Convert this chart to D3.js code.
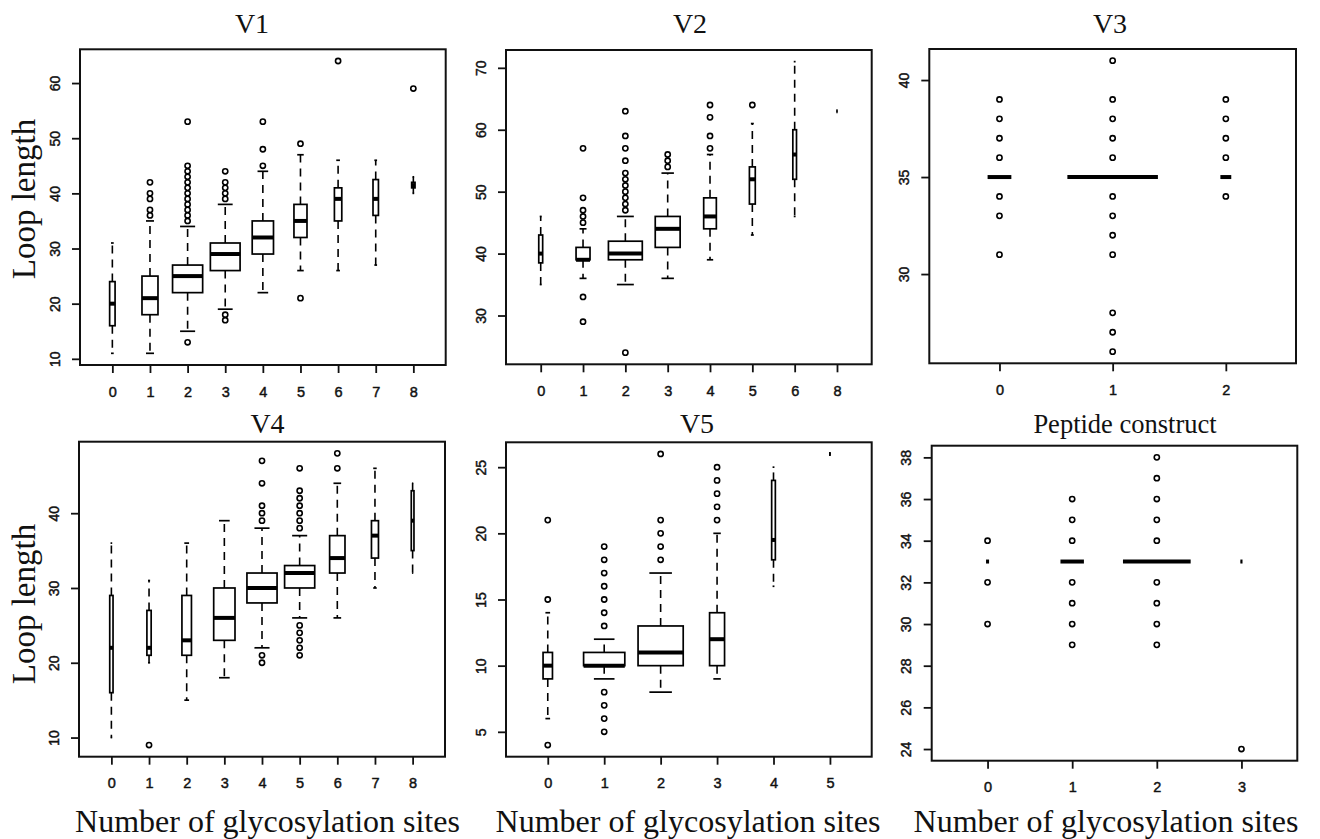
<!DOCTYPE html>
<html>
<head>
<meta charset="utf-8">
<script src="https://cdn.jsdelivr.net/npm/d3@7"></script>
<style>
  body { margin: 0; background: #fff; }
  svg { display: block; }
</style>
</head>
<body>
<svg id="chart" width="1320" height="839"></svg>
<script>
// ---------- Data: loop length by number of glycosylation sites ----------
// Each stats row: [lower whisker, Q1, median, Q3, upper whisker]

// V1
const v1Groups = ["0", "1", "2", "3", "4", "5", "6", "7", "8"];
const v1Counts = [13, 113, 400, 390, 200, 75, 24, 13, 5];
const v1Stats = [
  [11, 16, 20, 24, 31],
  [11, 18, 21, 25, 35],
  [15, 22, 25, 27, 34],
  [19, 26, 29, 31, 38],
  [22, 29, 32, 35, 44],
  [26, 32, 35, 38, 47],
  [26, 35, 39, 41, 46],
  [27, 36, 39, 42.5, 46],
  [40, 41, 41.5, 42, 43]
];
const v1Outliers = [
  [], [36, 37, 39, 40, 42],
  [13, 35, 36, 37, 38, 39, 40, 41, 42, 43, 44, 45, 53],
  [17, 18, 39, 40, 41, 42, 44],
  [45, 48, 53], [21, 49], [64], [], [59]
];
const v1Ticks = [10, 20, 30, 40, 50, 60];

// V2
const v2Groups = ["0", "1", "2", "3", "4", "5", "6", "8"];
const v2Counts = [8, 102, 600, 324, 84, 18, 7, 1];
const v2Stats = [
  [35, 38.5, 40, 43, 46],
  [36, 39, 39, 41, 44],
  [35, 39, 40, 42, 46],
  [36, 41, 44, 46, 53],
  [39, 44, 46, 49, 56],
  [43, 48, 52, 54, 61],
  [46, 52, 56, 60, 71],
  [63, 63, 63, 63, 63]
];
const v2Outliers = [
  [], [29, 33, 45, 46, 47, 49, 57],
  [24, 47, 48, 49, 50, 51, 52, 53, 55, 57, 59, 63],
  [54, 55, 56], [57, 59, 62, 64], [64], [], []
];
const v2Ticks = [30, 40, 50, 60, 70];

// V3
const v3Groups = ["0", "1", "2"];
const v3Counts = [62, 900, 13];
const v3Stats = [
  [35, 35, 35, 35, 35],
  [35, 35, 35, 35, 35],
  [35, 35, 35, 35, 35]
];
const v3Outliers = [
  [31, 33, 34, 36, 37, 38, 39],
  [26, 27, 28, 31, 32, 33, 34, 36, 37, 38, 39, 41],
  [34, 36, 37, 38, 39]
];
const v3Ticks = [30, 35, 40];

// V4
const v4Groups = ["0", "1", "2", "3", "4", "5", "6", "7", "8"];
const v4Counts = [6, 10, 50, 250, 500, 500, 130, 27, 4];
const v4Stats = [
  [10, 16, 22, 29, 36],
  [20, 21, 22, 27, 31],
  [15, 21, 23, 29, 36],
  [18, 23, 26, 30, 39],
  [22, 28, 30, 32, 38],
  [26, 30, 32, 33, 37],
  [26, 32, 34, 37, 44],
  [30, 34, 37, 39, 46],
  [32, 35, 39, 43, 44]
];
const v4Outliers = [
  [], [9], [], [],
  [20, 21, 39, 40, 41, 44, 47],
  [21, 22, 23, 24, 25, 38, 39, 40, 41, 42, 43, 46],
  [46, 48], [], []
];
const v4Ticks = [10, 20, 30, 40];

// V5
const v5Groups = ["0", "1", "2", "3", "4", "5"];
const v5Counts = [26, 500, 600, 66, 4, 1];
const v5Stats = [
  [6, 9, 10, 11, 14],
  [9, 10, 10, 11, 12],
  [8, 10, 11, 13, 17],
  [9, 10, 12, 14, 20],
  [16, 18, 19.5, 24, 25],
  [26, 26, 26, 26, 26]
];
const v5Outliers = [
  [4, 15, 21],
  [5, 6, 7, 8, 13, 14, 15, 16, 17, 18, 19],
  [18, 19, 20, 21, 26],
  [21, 22, 23, 24, 25],
  [], []
];
const v5Ticks = [5, 10, 15, 20, 25];

// Peptide construct
const pepGroups = ["0", "1", "2", "3"];
const pepCounts = [4, 240, 2000, 2];
const pepStats = [
  [33, 33, 33, 33, 33],
  [33, 33, 33, 33, 33],
  [33, 33, 33, 33, 33],
  [33, 33, 33, 33, 33]
];
const pepOutliers = [
  [30, 32, 34],
  [29, 30, 31, 32, 34, 35, 36],
  [29, 30, 31, 32, 34, 35, 36, 37, 38],
  [24]
];
const pepTicks = [24, 26, 28, 30, 32, 34, 36, 38];

// ---------- Layout ----------
const panels = [
  { title: "V1", groups: v1Groups, counts: v1Counts, stats: v1Stats, outliers: v1Outliers, ticks: v1Ticks,
    frame: { x0: 80, x1: 445.7, y0: 49.3, y1: 365 }, titleX: 252, titleY: 32.7 },
  { title: "V2", groups: v2Groups, counts: v2Counts, stats: v2Stats, outliers: v2Outliers, ticks: v2Ticks,
    frame: { x0: 506, x1: 871.7, y0: 50, y1: 364.3 }, titleX: 690, titleY: 32.7 },
  { title: "V3", groups: v3Groups, counts: v3Counts, stats: v3Stats, outliers: v3Outliers, ticks: v3Ticks,
    frame: { x0: 929.3, x1: 1296, y0: 49, y1: 363.3 }, titleX: 1110, titleY: 32.7 },
  { title: "V4", groups: v4Groups, counts: v4Counts, stats: v4Stats, outliers: v4Outliers, ticks: v4Ticks,
    frame: { x0: 79, x1: 445, y0: 441.7, y1: 756.7 }, titleX: 267.5, titleY: 433.3 },
  { title: "V5", groups: v5Groups, counts: v5Counts, stats: v5Stats, outliers: v5Outliers, ticks: v5Ticks,
    frame: { x0: 506, x1: 871.7, y0: 442.3, y1: 756.7 }, titleX: 697, titleY: 433.3 },
  { title: "Peptide construct", groups: pepGroups, counts: pepCounts, stats: pepStats, outliers: pepOutliers, ticks: pepTicks,
    frame: { x0: 931.7, x1: 1297.3, y0: 445.7, y1: 760.7 }, titleX: 1125, titleY: 433, small: true }
];

const serif = "'Liberation Serif', 'Times New Roman', serif";
const sans = "'Liberation Sans', Arial, Helvetica, sans-serif";

const svg = d3.select("#chart");
svg.append("rect").attr("width", 1320).attr("height", 839).attr("fill", "#fff");

panels.forEach(p => {
  const f = p.frame;
  const n = p.groups.length;
  const g = svg.append("g");

  // x: group positions 1..n, range extended by 4% (as in R boxplots)
  const x = d3.scaleLinear()
    .domain([0.5 - 0.04 * n, n + 0.5 + 0.04 * n])
    .range([f.x0, f.x1]);

  // y: data range extended by 4%
  const allVals = p.stats.flat().concat(p.outliers.flat());
  const lo = d3.min(allVals), hi = d3.max(allVals);
  const pad = 0.04 * (hi - lo);
  const y = d3.scaleLinear().domain([lo - pad, hi + pad]).range([f.y1, f.y0]);

  const unit = x(2) - x(1);
  const maxRoot = Math.sqrt(d3.max(p.counts));

  p.stats.forEach((s, i) => {
    const [wLo, q1, med, q3, wHi] = s;
    const cx = x(i + 1);
    const w = 0.8 * Math.sqrt(p.counts[i]) / maxRoot * unit;
    const bg = g.append("g");

    // whiskers with staples
    [[q3, wHi], [q1, wLo]].forEach(([a, b]) => {
      if (a !== b) {
        bg.append("line")
          .attr("x1", cx).attr("x2", cx)
          .attr("y1", y(a)).attr("y2", y(b))
          .attr("stroke", "#000").attr("stroke-width", 1.6)
          .attr("stroke-dasharray", "8,6");
      }
      bg.append("line")
        .attr("x1", cx - w / 4).attr("x2", cx + w / 4)
        .attr("y1", y(b)).attr("y2", y(b))
        .attr("stroke", "#000").attr("stroke-width", 1.7);
    });

    // box
    bg.append("rect")
      .attr("x", cx - w / 2).attr("y", y(q3))
      .attr("width", w).attr("height", Math.max(0, y(q1) - y(q3)))
      .attr("fill", "#fff").attr("stroke", "#000").attr("stroke-width", 1.7);

    // median
    bg.append("line")
      .attr("x1", cx - w / 2).attr("x2", cx + w / 2)
      .attr("y1", y(med)).attr("y2", y(med))
      .attr("stroke", "#000").attr("stroke-width", 4)
      .attr("stroke-linecap", "butt");

    // outliers
    bg.selectAll("circle.out")
      .data(p.outliers[i])
      .join("circle")
      .attr("class", "out")
      .attr("cx", cx).attr("cy", d => y(d))
      .attr("r", 2.6)
      .attr("fill", "none").attr("stroke", "#000").attr("stroke-width", 1.6);
  });

  // plot frame
  g.append("rect")
    .attr("x", f.x0).attr("y", f.y0)
    .attr("width", f.x1 - f.x0).attr("height", f.y1 - f.y0)
    .attr("fill", "none").attr("stroke", "#111").attr("stroke-width", 2);

  // x axis
  const xAxis = d3.axisBottom(x)
    .tickValues(d3.range(1, n + 1))
    .tickFormat(d => p.groups[d - 1])
    .tickSize(8).tickSizeOuter(0).tickPadding(13.5);
  const xa = g.append("g").attr("transform", `translate(0,${f.y1})`).call(xAxis);
  xa.select(".domain").remove();
  xa.selectAll(".tick line").attr("stroke", "#111").attr("stroke-width", 1.8);
  xa.selectAll(".tick text")
    .attr("fill", "#111").attr("stroke", "#111").attr("stroke-width", 0.45)
    .style("font-family", sans).style("font-size", "14.5px");

  // y axis with labels parallel to the axis
  const yAxis = d3.axisLeft(y).tickValues(p.ticks).tickSize(8).tickSizeOuter(0);
  const ya = g.append("g").attr("transform", `translate(${f.x0},0)`).call(yAxis);
  ya.select(".domain").remove();
  ya.selectAll(".tick line").attr("stroke", "#111").attr("stroke-width", 1.8);
  ya.selectAll(".tick text")
    .attr("x", null).attr("dy", null)
    .attr("text-anchor", "middle")
    .attr("transform", "translate(-20.5,0) rotate(-90)")
    .attr("fill", "#111").attr("stroke", "#111").attr("stroke-width", 0.45)
    .style("font-family", sans).style("font-size", "14px");

  // panel title
  svg.append("text")
    .attr("x", p.titleX).attr("y", p.titleY)
    .attr("text-anchor", "middle")
    .attr("fill", "#111")
    .style("font-family", serif)
    .style("font-size", p.small ? "26.5px" : "28px")
    .text(p.title);
});

// shared axis titles
[199, 604].forEach(cy => {
  svg.append("text")
    .attr("transform", `translate(34.5,${cy}) rotate(-90)`)
    .attr("text-anchor", "middle")
    .attr("fill", "#111")
    .style("font-family", serif).style("font-size", "33px")
    .text("Loop length");
});

[267.5, 688, 1106].forEach(cx => {
  svg.append("text")
    .attr("x", cx).attr("y", 831.7)
    .attr("text-anchor", "middle")
    .attr("fill", "#111")
    .style("font-family", serif).style("font-size", "32px")
    .text("Number of glycosylation sites");
});
</script>
</body>
</html>
